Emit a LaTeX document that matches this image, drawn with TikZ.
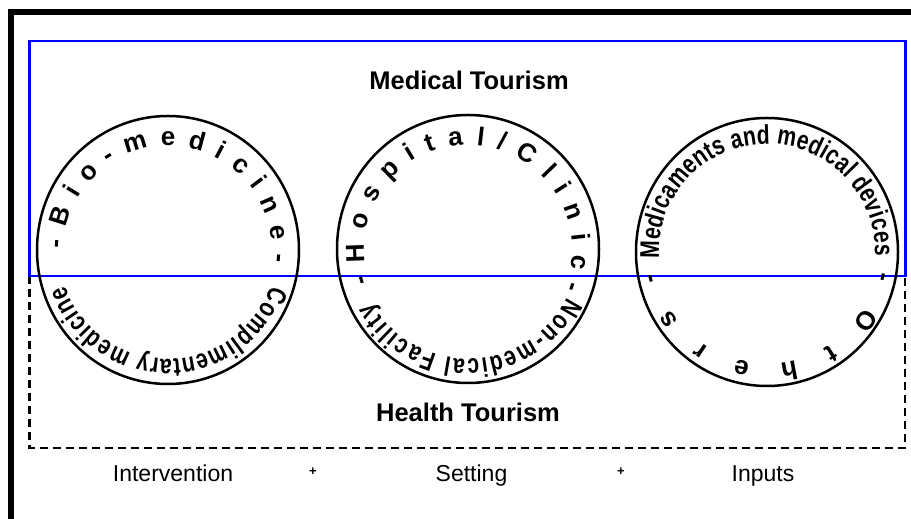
\documentclass[tikz,border=0pt]{standalone}
\usepackage{fontspec}
\setmainfont{Liberation Sans}
\newfontfamily\arcfont[FakeStretch=0.78]{Liberation Sans}
\usetikzlibrary{decorations.text}

\tikzset{
    titlelabel/.style={font=\bfseries\fontsize{25.5}{30}\selectfont, anchor=base},
    axislabel/.style={font=\fontsize{23}{28}\selectfont, anchor=base},
    pluslabel/.style={font=\bfseries\fontsize{13}{15}\selectfont},
    ring/.style={line width=2.5pt},
    zone/.style={line width=2.5pt, dash pattern=on 8pt off 5pt},
    spacedtext/.style={decorate, decoration={text along path,
        text align=fit to path stretching spaces,
        text={|\bfseries\fontsize{26}{30}\selectfont|#1}}},
    arctext/.style={decorate, decoration={text along path,
        text align=fit to path,
        text={|\arcfont\bfseries\fontsize{27}{30}\selectfont|#1}}}
}

\begin{document}
\begin{tikzpicture}[x=1pt, y=1pt]
    \clip (0,0) rectangle (911,519);
    % Cornice esterna
    \draw[line width=6pt] (11,-40) rectangle (950,506.5);

    % Health Tourism (tratteggiato)
    \draw[zone] (29.5,243) -- (29.5,71) -- (905,71) -- (905,243);
    % Medical Tourism (blu)
    \draw[blue, line width=2.5pt] (29.5,243) rectangle (905.5,478);

    \node[titlelabel] (medical) at (469,429) {Medical Tourism};
    \node[titlelabel] (health) at (468,97) {Health Tourism};

    % Cerchi
    \coordinate (interv) at (168,269);
    \coordinate (setting) at (468,270);
    \coordinate (inputs) at (767,267);
    \draw[ring] (interv) ellipse [x radius=131pt, y radius=134pt];
    \draw[ring] (setting) ellipse [x radius=131pt, y radius=134pt];
    \draw[ring] (inputs) ellipse [x radius=131pt, y radius=134pt];

    % Testi lungo i cerchi
    \path[spacedtext={- B i o - m e d i c i n e -}]
        (interv) ++(179:104pt) arc[start angle=179, end angle=-6.5, radius=104pt];
    \path[arctext={Complimentary medicine}]
        (interv) ++(-19:109pt) arc[start angle=-19, end angle=-161, radius=109pt];

    \path[spacedtext={- H o s p i t a l / C l i n i c -}]
        (setting) ++(199:104pt) arc[start angle=199, end angle=-22.6, radius=104pt];
    \path[arctext={Non-medical Facility}]
        (setting) ++(-26:110pt) arc[start angle=-26, end angle=-151, radius=110pt];

    \path[arctext={Medicaments and medical devices}]
        (inputs) ++(183.5:108pt) arc[start angle=183.5, end angle=-2, radius=108pt];
    \path[spacedtext={- O t h e r s -}]
        (inputs) ++(-10:112pt) arc[start angle=-10, end angle=-169, radius=112pt];

    % Etichette in basso
    \node[axislabel] (intervention) at (173,37) {Intervention};
    \node[pluslabel] (plusa) at (313,47) {+};
    \node[axislabel] (settinglabel) at (471.5,37) {Setting};
    \node[pluslabel] (plusb) at (621,47) {+};
    \node[axislabel] (inputslabel) at (763,37) {Inputs};
\end{tikzpicture}
\end{document}
